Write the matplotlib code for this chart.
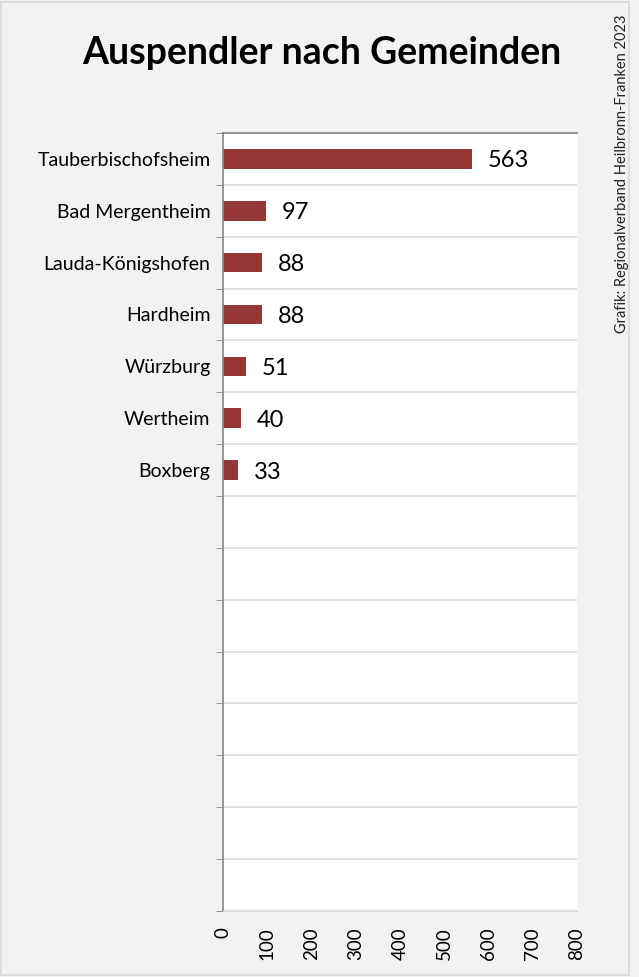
import matplotlib
matplotlib.use("Agg")
import matplotlib.pyplot as plt
import numpy as np
from matplotlib.patches import Rectangle

categories = ["Tauberbischofsheim", "Bad Mergentheim", "Lauda-Königshofen",
              "Hardheim", "Würzburg", "Wertheim", "Boxberg"]
values = [563, 97, 88, 88, 51, 40, 33]
n_slots = 15
xticks = [0, 100, 200, 300, 400, 500, 600, 700, 800]
title = "Auspendler nach Gemeinden"
source = "Grafik: Regionalverband Heilbronn-Franken 2023"

plt.rcParams['font.family'] = ['Lato', 'DejaVu Sans']

fig = plt.figure(figsize=(6.39, 9.77), dpi=100, facecolor="#f2f2f2")
fig.patches.append(Rectangle((0.002, 0.002), 0.983, 0.996, transform=fig.transFigure,
                             fill=False, edgecolor="#d9d9d9", linewidth=1.2))

ax = fig.add_axes([0.349, 0.0676, 0.554, 0.7963])
ax.set_facecolor("white")
y = np.arange(len(categories))
ax.barh(y, values, height=0.38, color="#953735")
for yi, v in zip(y, values):
    ax.text(v + 36, yi + 0.04, str(v), va="center", ha="left", fontsize=17, color="black")

ax.set_xlim(0, 800)
ax.set_ylim(n_slots - 0.5, -0.5)
ax.set_yticks(y)
ax.set_yticklabels(categories, fontsize=14)
ax.tick_params(axis="y", which="major", length=0, pad=9)
ax.set_yticks(np.arange(n_slots + 1) - 0.5, minor=True)
ax.tick_params(axis="y", which="minor", length=5, color="#868686", direction="out")
ax.grid(axis="y", which="minor", color="#d9d9d9", linewidth=1.2)
ax.set_axisbelow(True)
ax.set_xticks(xticks)
ax.set_xticklabels([str(t) for t in xticks], rotation=90, fontsize=13.5)
ax.tick_params(axis="x", length=0, pad=12)

ax.spines["left"].set_color("#868686")
ax.spines["left"].set_linewidth(1.2)
ax.spines["top"].set_color("#868686")
ax.spines["top"].set_linewidth(1.2)
ax.spines["bottom"].set_color("#d9d9d9")
ax.spines["right"].set_visible(False)

fig.text(0.504, 0.946, title, ha="center", va="center", fontsize=27, fontweight="bold")
fig.text(0.973, 0.822, source, ha="center", va="center", rotation=90, fontsize=10.5, color="#222222")

fig.savefig("out.png", dpi=100, facecolor=fig.get_facecolor())
